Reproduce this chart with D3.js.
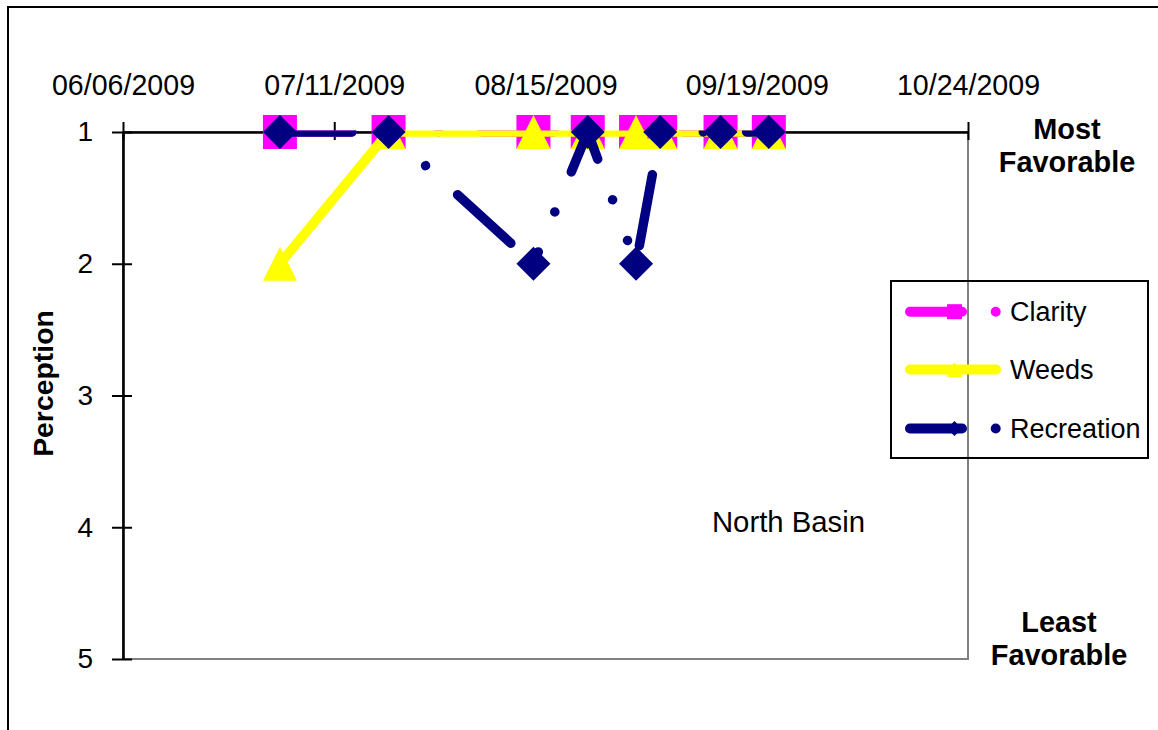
<!DOCTYPE html>
<html>
<head>
<meta charset="utf-8">
<script src="https://cdn.jsdelivr.net/npm/d3@7"></script>
<style>
  html, body { margin: 0; padding: 0; background: #fff; overflow: hidden; }
  svg { display: block; }
  text { font-family: "Liberation Sans", Arial, sans-serif; fill: #000; }
</style>
</head>
<body>
<svg id="chart" width="1158" height="730"></svg>
<script>
// ---------------- data ----------------
const sampleDates = ["07/02/2009","07/20/2009","08/13/2009","08/22/2009","08/30/2009","09/03/2009","09/13/2009","09/21/2009"];
const clarity     = [1, 1, 1, 1, 1, 1, 1, 1];
const weeds       = [2, 1, 1, 1, 1, 1, 1, 1];
const recreation  = [1, 1, 2, 1, 2, 1, 1, 1];
const seriesNames = ["Clarity", "Weeds", "Recreation"];
const xTickLabels = ["06/06/2009","07/11/2009","08/15/2009","09/19/2009","10/24/2009"];
const yTickValues = [1, 2, 3, 4, 5];
const yAxisTitle  = "Perception";
const topNote     = ["Most", "Favorable"];
const bottomNote  = ["Least", "Favorable"];
const basinLabel  = "North Basin";

// ---------------- setup ----------------
const parse = d3.utcParse("%m/%d/%Y");
const fmt = d3.utcFormat("%m/%d/%Y");
const tickDates = xTickLabels.map(parse);
const svg = d3.select("#chart");

const L = 123, R = 968, T = 132, B = 659;
const x = d3.scaleUtc().domain([tickDates[0], tickDates[tickDates.length - 1]]).range([L, R]);
const y = d3.scaleLinear().domain([1, 5]).range([T, B]);

const colors = { Clarity: "#FF00FF", Weeds: "#FFFF00", Recreation: "#000080" };
const dashDotDot = "72 43.3 0.01 43.3 0.01 43.3";
const LW = 9.5;
const MS = 34;

// outer chart border
svg.append("rect").attr("x", 8).attr("y", 7).attr("width", 1300).attr("height", 900)
  .attr("fill", "none").attr("stroke", "#000").attr("stroke-width", 2);

// plot area border (gray)
svg.append("rect").attr("x", L).attr("y", T).attr("width", R - L).attr("height", B - T)
  .attr("fill", "none").attr("stroke", "#808080").attr("stroke-width", 2);

// x axis (top)
const xAxis = svg.append("g").attr("transform", `translate(0,${T})`)
  .call(d3.axisTop(x).tickValues(tickDates).tickFormat(fmt)
        .tickSizeInner(10).tickSizeOuter(0).tickPadding(27));
xAxis.select(".domain").attr("stroke", "#000").attr("stroke-width", 2.5);
xAxis.selectAll(".tick line").attr("y1", 8).attr("stroke", "#000").attr("stroke-width", 2);
xAxis.selectAll(".tick text").attr("font-size", 28.6).attr("font-family", "Liberation Sans, Arial, sans-serif").attr("fill", "#000");

// y axis (left)
const yAxis = svg.append("g").attr("transform", `translate(${L},0)`)
  .call(d3.axisLeft(y).tickValues(yTickValues).tickFormat(d3.format("d"))
        .tickSizeInner(11).tickSizeOuter(0).tickPadding(19));
yAxis.select(".domain").attr("stroke", "#000").attr("stroke-width", 2.6);
yAxis.selectAll(".tick line").attr("x1", 9).attr("stroke", "#000").attr("stroke-width", 2);
yAxis.selectAll(".tick text").attr("font-size", 28).attr("font-family", "Liberation Sans, Arial, sans-serif").attr("fill", "#000");

// clip for series lines
svg.append("defs").append("clipPath").attr("id", "plotClip")
  .append("rect").attr("x", L).attr("y", T - 1.5).attr("width", R - L).attr("height", B - T + 1.5);

// marker shapes
const half = MS / 2;
const shapes = {
  Clarity: s => `M${-s},${-s}H${s}V${s}H${-s}Z`,
  Weeds: s => `M0,${-s}L${s},${s}L${-s},${s}Z`,
  Recreation: s => `M0,${-s}L${s},0L0,${s}L${-s},0Z`
};

const series = [
  { name: "Clarity", values: clarity, dash: dashDotDot },
  { name: "Weeds", values: weeds, dash: null },
  { name: "Recreation", values: recreation, dash: dashDotDot }
];

const line = d3.line().x(d => x(d.date)).y(d => y(d.v));

series.forEach(s => {
  const pts = sampleDates.map((d, i) => ({ date: parse(d), v: s.values[i] }));
  const g = svg.append("g");
  g.append("path").datum(pts)
    .attr("d", line)
    .attr("clip-path", "url(#plotClip)")
    .attr("fill", "none")
    .attr("stroke", colors[s.name])
    .attr("stroke-width", LW)
    .attr("stroke-linecap", "round")
    .attr("stroke-linejoin", "round")
    .attr("stroke-dasharray", s.dash);
  g.selectAll("path.m").data(pts).enter().append("path")
    .attr("class", "m")
    .attr("d", shapes[s.name](half))
    .attr("transform", d => `translate(${x(d.date)},${y(d.v)})`)
    .attr("fill", colors[s.name]);
});

// legend
const lg = svg.append("g");
lg.append("rect").attr("x", 891).attr("y", 281).attr("width", 257).attr("height", 177)
  .attr("fill", "none").attr("stroke", "#000").attr("stroke-width", 2);
const legendY = [311.7, 369.5, 428.5];
series.forEach((s, i) => {
  const ly = legendY[i];
  lg.append("line").attr("x1", 910).attr("x2", 996).attr("y1", ly).attr("y2", ly)
    .attr("stroke", colors[s.name]).attr("stroke-width", 10)
    .attr("stroke-linecap", "round")
    .attr("stroke-dasharray", s.dash ? "52 33.7 0.01 200" : null);
  lg.append("path").attr("d", shapes[s.name](7.5))
    .attr("transform", `translate(954.5,${ly})`).attr("fill", colors[s.name]);
  lg.append("text").attr("x", 1010).attr("y", ly + 9.5)
    .attr("font-size", 27).text(s.name);
});

// y axis title
svg.append("text").attr("transform", "translate(53,383.5) rotate(-90)")
  .attr("text-anchor", "middle").attr("font-size", 28.4).attr("font-weight", "bold")
  .text(yAxisTitle);

// side notes
topNote.forEach((t, i) => {
  svg.append("text").attr("x", 1067).attr("y", 138.5 + i * 33)
    .attr("text-anchor", "middle").attr("font-size", 28.9).attr("font-weight", "bold").text(t);
});
bottomNote.forEach((t, i) => {
  svg.append("text").attr("x", 1059).attr("y", 632 + i * 33)
    .attr("text-anchor", "middle").attr("font-size", 28.9).attr("font-weight", "bold").text(t);
});

// basin label
svg.append("text").attr("x", 788.5).attr("y", 532)
  .attr("text-anchor", "middle").attr("font-size", 29.3).text(basinLabel);
</script>
</body>
</html>
